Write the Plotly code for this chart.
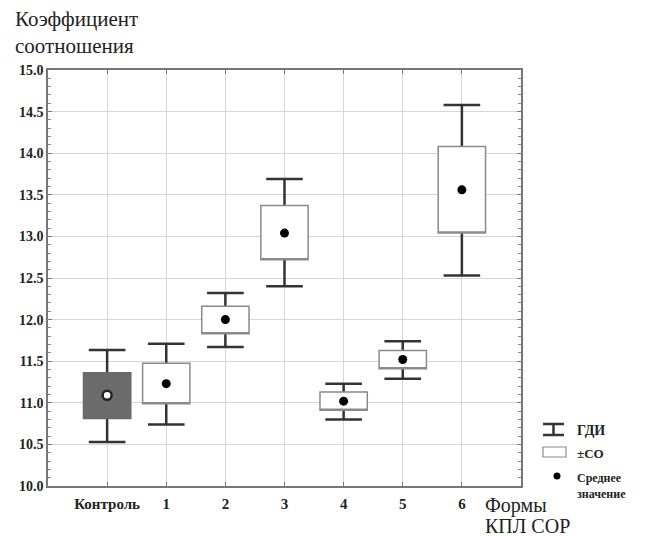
import plotly.graph_objects as go

# ---- data ----
categories = ["Контроль", "1", "2", "3", "4", "5", "6"]
positions = [0, 1, 2, 3, 4, 5, 6]
mean_vals = [11.09, 11.23, 12.00, 13.04, 11.02, 11.52, 13.56]
sd_low = [10.81, 10.99, 11.83, 12.72, 10.91, 11.41, 13.04]
sd_high = [11.36, 11.475, 12.16, 13.37, 11.13, 11.63, 14.08]
ci_low = [10.53, 10.74, 11.67, 12.40, 10.80, 11.29, 12.53]
ci_high = [11.635, 11.71, 12.32, 13.69, 11.23, 11.74, 14.58]
y_ticks = [10.0, 10.5, 11.0, 11.5, 12.0, 12.5, 13.0, 13.5, 14.0, 14.5, 15.0]

# page body has an 8px margin; figure sized to fit the 646x536 window
OFF = 8
W, H = 646 - OFF, 536 - OFF
PL, PR, PT, PB = 48, 521, 70, 486          # plot area in screenshot pixels
ML, MT = PL - OFF, PT - OFF
MR, MB = W - (PR - OFF), H - (PB - OFF)
PW, PH = PR - PL, PB - PT

def px(x):
    return (x - PL) / PW

def py(y):
    return (PB - y) / PH

SERIF = "Liberation Serif"
DARK = "#333333"
BOXLINE = "#8a8a8a"
TXT = "#222222"

fig = go.Figure()

# whiskers (ГДИ)
fig.add_trace(go.Box(
    x=positions, q1=mean_vals, median=mean_vals, q3=mean_vals,
    lowerfence=ci_low, upperfence=ci_high,
    width=0.62, whiskerwidth=1,
    line=dict(color=DARK, width=2.5), fillcolor="rgba(0,0,0,0)",
    boxpoints=False, hoverinfo="skip", showlegend=False,
))
# ±SD boxes: control (dark fill)
fig.add_trace(go.Box(
    x=positions[:1], q1=sd_low[:1], median=sd_low[:1], q3=sd_high[:1],
    lowerfence=sd_low[:1], upperfence=sd_high[:1],
    width=0.8, whiskerwidth=0,
    line=dict(color="#6a6a6a", width=1.5), fillcolor="#6b6b6b",
    boxpoints=False, hoverinfo="skip", showlegend=False,
))
# ±SD boxes: forms (white fill)
fig.add_trace(go.Box(
    x=positions[1:], q1=sd_low[1:], median=sd_low[1:], q3=sd_high[1:],
    lowerfence=sd_low[1:], upperfence=sd_high[1:],
    width=0.8, whiskerwidth=0,
    line=dict(color=BOXLINE, width=1.5), fillcolor="white",
    boxpoints=False, hoverinfo="skip", showlegend=False,
))
# means
fig.add_trace(go.Scatter(
    x=positions[:1], y=mean_vals[:1], mode="markers",
    marker=dict(color="white", size=9, line=dict(color="#222222", width=2.5)),
    hoverinfo="skip", showlegend=False,
))
fig.add_trace(go.Scatter(
    x=positions[1:], y=mean_vals[1:], mode="markers",
    marker=dict(color="black", size=9),
    hoverinfo="skip", showlegend=False,
))

fig.update_layout(
    width=W, height=H,
    margin=dict(l=ML, r=MR, t=MT, b=MB, autoexpand=False),
    paper_bgcolor="white", plot_bgcolor="white",
    font=dict(family=SERIF, color=TXT),
    boxmode="overlay",
    showlegend=False,
)
fig.update_xaxes(
    range=[-1, 7], tickvals=positions, ticktext=categories,
    tickfont=dict(family=SERIF, size=15, color=TXT, weight="bold"),
    ticklabelstandoff=3,
    showgrid=True, gridcolor="#d6d6d6", gridwidth=1,
    showline=True, linecolor="#777777", linewidth=1.5, mirror="ticks",
    ticks="inside", ticklen=4, tickcolor="#777777", zeroline=False,
)
fig.update_yaxes(
    range=[10, 15], tickvals=y_ticks, ticktext=[f"{v:.1f}" for v in y_ticks],
    tickfont=dict(family=SERIF, size=14, color=TXT, weight="bold"),
    showgrid=True, gridcolor="#d6d6d6", gridwidth=1,
    showline=True, linecolor="#777777", linewidth=1.5, mirror="allticks",
    ticks="inside", ticklen=4, tickcolor="#777777", zeroline=False,
    minor=dict(ticks="inside", ticklen=3, dtick=0.1, tickcolor="#888888", showgrid=False),
)

# axis titles
fig.add_annotation(
    x=px(13), y=py(5), xref="paper", yref="paper", xanchor="left", yanchor="top",
    text="Коэффициент<br>соотношения", showarrow=False, align="left",
    font=dict(family=SERIF, size=21, color=TXT),
)
fig.add_annotation(
    x=px(483), y=py(505), xref="paper", yref="paper", xanchor="left", yanchor="middle",
    text="Формы", showarrow=False, align="left",
    font=dict(family=SERIF, size=20, color=TXT),
)
fig.add_annotation(
    x=px(483), y=py(526), xref="paper", yref="paper", xanchor="left", yanchor="middle",
    text="КПЛ СОР", showarrow=False, align="left",
    font=dict(family=SERIF, size=20, color=TXT),
)

# legend
fig.add_shape(type="path", xref="paper", yref="paper",
              path=f"M {px(543)} {py(424)} L {px(564)} {py(424)} M {px(553.5)} {py(424)} L {px(553.5)} {py(435)} "
                   f"M {px(543)} {py(435)} L {px(564)} {py(435)}",
              line=dict(color=DARK, width=2.5))
fig.add_shape(type="rect", xref="paper", yref="paper",
              x0=px(543), x1=px(566), y0=py(447), y1=py(457),
              line=dict(color=BOXLINE, width=1.2), fillcolor="white")
fig.add_shape(type="circle", xref="paper", yref="paper",
              x0=px(553.5), x1=px(560.5), y0=py(472.5), y1=py(479.5),
              line=dict(color="black", width=0), fillcolor="black")
fig.add_annotation(x=px(575), y=py(430), xref="paper", yref="paper", xanchor="left", yanchor="middle",
                   text="<b>ГДИ</b>", showarrow=False, font=dict(family=SERIF, size=14, color=TXT))
fig.add_annotation(x=px(575), y=py(453), xref="paper", yref="paper", xanchor="left", yanchor="middle",
                   text="<b>±СО</b>", showarrow=False, font=dict(family=SERIF, size=13, color=TXT))
fig.add_annotation(x=px(575), y=py(469), xref="paper", yref="paper", xanchor="left", yanchor="top",
                   text="<b>Среднее<br>значение</b>", showarrow=False, align="left",
                   font=dict(family=SERIF, size=12, color=TXT))

fig.write_html("out.html")
